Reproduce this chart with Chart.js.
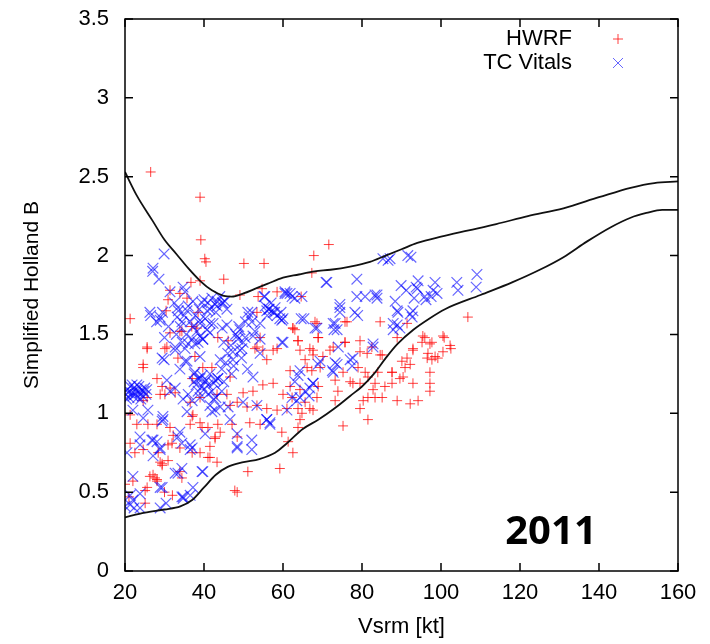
<!DOCTYPE html>
<html>
<head>
<meta charset="utf-8">
<script src="https://cdn.jsdelivr.net/npm/chart.js@4"></script>
<style>
  html, body { margin: 0; padding: 0; background: #fff; }
</style>
</head>
<body>
<canvas id="chart" width="710" height="644"></canvas>
<script>
// axis ticks
const xTicks = [20, 40, 60, 80, 100, 120, 140, 160];
const yTicks = [0, 0.5, 1, 1.5, 2, 2.5, 3, 3.5];

// envelope curves
const upperX = [20, 23, 27, 30, 33, 36, 39, 42, 45, 47, 50, 53, 56, 60, 64, 68, 72, 77, 82, 86, 90, 94, 100, 107, 114, 122, 131, 140, 148, 154, 160];
const upperY = [2.53, 2.38, 2.22, 2.10, 2.01, 1.92, 1.84, 1.78, 1.745, 1.74, 1.76, 1.79, 1.82, 1.86, 1.88, 1.90, 1.91, 1.93, 1.96, 2.00, 2.04, 2.08, 2.12, 2.16, 2.20, 2.25, 2.30, 2.37, 2.43, 2.46, 2.47];
const lowerX = [20, 25, 30, 34, 37, 40, 43, 46, 50, 54, 58, 61, 65, 69, 73, 77, 80, 83, 86, 89, 93, 97, 101, 110, 118, 125, 131, 137, 143, 148, 152, 156, 160];
const lowerY = [0.34, 0.37, 0.39, 0.41, 0.45, 0.53, 0.61, 0.66, 0.69, 0.71, 0.75, 0.81, 0.90, 0.96, 1.03, 1.11, 1.17, 1.25, 1.35, 1.44, 1.53, 1.60, 1.66, 1.75, 1.83, 1.91, 1.99, 2.09, 2.18, 2.24, 2.27, 2.29, 2.29];

// HWRF points [Vsrm, B]
const hwrfPoints = [
  [26.5,2.53],[39.0,2.37],[39.2,2.10],[40.2,1.98],[40.5,1.96],[50.1,1.95],[55.2,1.95],[45.0,1.85],[39.0,1.84],[36.7,1.83],
  [21.3,1.60],[31.4,1.78],[33.9,1.76],[30.9,1.72],[30.4,1.65],[35.7,1.73],[53.7,1.74],[54.7,1.79],[58.5,1.77],[53.4,1.64],
  [38.5,1.64],[49.1,1.75],[71.6,2.07],[67.8,2.00],[67.3,1.89],[64.6,1.74],[68.1,1.58],[76.2,1.58],[84.6,1.58],[91.4,1.57],
  [106.8,1.61],[62.5,1.54],
  [63.0,1.53],[63.8,1.46],[68.9,1.48],[66.8,1.41],[64.3,1.40],[71.9,1.40],[75.7,1.45],[79.5,1.46],[79.5,1.39],[82.5,1.42],
  [85.1,1.37],[65.6,1.34],[67.6,1.37],[70.1,1.36],[61.8,1.27],[66.1,1.29],[67.3,1.27],[69.4,1.29],[73.2,1.21],[75.2,1.26],
  [77.0,1.20],[77.7,1.19],[79.0,1.29],[80.8,1.26],[81.5,1.23],[79.5,1.19],[61.8,1.17],[62.3,1.10],[64.3,1.15],[68.6,1.10],
  [68.9,1.17],[65.6,1.07],[63.8,1.03],[64.8,1.00],[66.8,1.03],[67.6,1.02],[64.3,0.96],[63.8,0.91],[73.9,1.14],[73.2,1.08],
  [84.0,1.26],[87.6,1.26],[89.6,1.22],[90.4,1.23],[90.9,1.29],[92.2,1.31],[90.1,1.33],[91.4,1.35],[92.9,1.40],[95.2,1.45],
  [97.7,1.45],[95.9,1.48],[100.8,1.48],[102.5,1.41],[100.5,1.39],[96.7,1.38],[96.5,1.35],[97.7,1.34],[99.2,1.35],[97.2,1.26],
  [97.2,1.19],[97.2,1.14],[92.9,1.19],[87.6,1.19],[85.8,1.17],[83.3,1.19],[82.8,1.15],[81.5,1.10],[83.3,1.10],[85.1,1.10],
  [88.9,1.08],[94.2,1.08],[92.2,1.06],[80.3,1.08],[79.5,1.03],[81.5,0.96],[75.2,0.92],[62.5,0.75],[61.3,0.82],
  [100.5,1.49],[102.3,1.43],[95.4,1.49],[97.2,1.44],[92.9,1.41],[98.5,1.36],
  [31.4,1.51],[34.4,1.52],[38.2,1.54],[25.6,1.41],[30.1,1.41],[33.4,1.35],[37.7,1.36],[46.1,1.46],[52.9,1.41],[54.9,1.40],
  [58.5,1.41],[24.6,1.29],[42.0,1.29],[39.7,1.29],[46.6,1.23],[28.1,1.22],[29.4,1.17],[31.4,1.16],[37.0,1.22],[30.1,1.12],
  [32.7,1.13],[28.9,1.12],[25.6,1.10],[24.6,1.08],[36.5,1.07],[39.0,1.10],[43.3,1.12],[45.8,1.12],[49.9,1.13],[52.4,1.14],
  [54.9,1.18],[57.5,1.19],[60.0,1.12],[46.6,1.05],[48.4,1.07],[50.9,1.04],[53.4,1.05],[55.9,1.03],[58.5,1.02],[61.0,1.03],
  [21.3,0.99],[23.0,0.93],[25.8,0.93],[28.1,0.93],[31.4,0.91],[32.2,0.86],[37.2,0.99],[39.0,0.94],[36.5,0.93],[41.0,0.91],
  [43.5,0.93],[44.1,0.88],[42.8,0.84],[41.5,0.79],[47.1,0.93],[48.4,0.85],[51.6,0.94],[54.2,0.93],[59.7,0.88],[21.3,0.81],
  [22.5,0.75],[24.6,0.77],[28.4,0.75],[30.9,0.80],[33.9,0.78],[37.0,0.75],[39.0,0.75],[41.5,0.72],[43.3,0.69],[28.9,0.69],
  [29.4,0.67],[27.1,0.61],[33.9,0.63],[34.4,0.59],[28.1,0.58],[25.6,0.53],[20.0,0.55],[51.1,0.63],[47.8,0.51],[48.4,0.50],
  [59.2,0.65],
  [25.6,1.42],[30.6,1.42],[33.9,1.52],[36.9,1.55],[43.5,1.48],[53.4,1.42],[54.2,1.48],[55.9,1.34],[57.5,1.40],[62.5,1.54],
  [63.8,1.46],[67.6,1.40],[68.6,1.57],[68.9,1.48],[72.7,1.42],[75.7,1.45],[75.7,1.58],[81.3,1.38],[84.6,1.37],[87.6,1.26],
  [88.9,1.48],[24.6,1.31],
  [21.0,0.47],[22.0,0.57],[26.3,0.60],[27.6,0.59],[25.1,0.43],[30.0,0.50],[32.0,0.48],
  [37.0,0.98],[39.5,0.91],[42.8,0.85],[31.9,0.81],[29.4,0.68],[30.9,0.70],[41.0,0.72],[25.1,0.51],[28.1,0.57]
];

// TC Vitals points [Vsrm, B]
const vitalsPoints = [
  [20.2,1.12],[20.6,1.15],[21.0,1.10],[21.3,1.17],[21.7,1.13],[22.0,1.11],[22.3,1.16],[22.6,1.12],[22.9,1.14],[23.2,1.10],
  [23.5,1.17],[23.8,1.13],[24.1,1.15],[24.4,1.11],[24.7,1.14],[25.0,1.16],[25.3,1.12],[20.4,1.09],[21.8,1.18],[23.0,1.18],
  [24.0,1.09],[25.5,1.15],[20.8,1.13],
  [29.9,2.01],[27.1,1.92],[27.0,1.90],[28.6,1.85],[31.4,1.77],[34.7,1.80],[35.2,1.77],[26.3,1.64],[28.9,1.59],[33.4,1.67],
  [33.2,1.61],[34.4,1.58],[37.2,1.71],[39.5,1.70],[40.8,1.65],[41.5,1.57],[43.3,1.71],[44.6,1.70],[45.3,1.71],[43.3,1.68],
  [45.8,1.56],[51.1,1.64],[52.1,1.58],[54.2,1.57],[55.9,1.65],[57.5,1.64],[59.2,1.60],[61.0,1.76],[55.4,1.74],[40.3,1.60],
  [39.0,1.57],
  [28.9,1.61],[35.7,1.65],[39.0,1.59],[42.8,1.69],[44.8,1.70],[45.8,1.66],[41.5,1.66],[37.2,1.55],[39.0,1.49],[40.8,1.53],
  [42.3,1.57],[32.7,1.42],[35.2,1.41],[37.7,1.44],[39.7,1.47],[29.9,1.34],[35.2,1.33],[39.0,1.36],[51.4,1.61],[52.1,1.64],
  [56.4,1.66],[57.9,1.64],[59.7,1.59],[60.5,1.76],[62.3,1.74],[64.8,1.74],[55.2,1.74],[49.1,1.53],[48.4,1.49],[49.9,1.45],
  [52.4,1.49],[49.1,1.40],[47.3,1.34],[54.2,1.38],[59.7,1.45],[64.6,1.60],[68.6,1.54],[71.1,1.83],[78.7,1.85],[78.7,1.74],
  [78.9,1.62],[74.4,1.67],[72.7,1.57],[73.7,1.53],[83.3,1.75],[82.8,1.42],[85.3,1.98],[88.4,1.71],[88.9,1.65],[87.9,1.57],
  [64.3,1.27],[69.4,1.33],[73.2,1.32],[77.0,1.34],
  [86.6,1.97],[91.6,2.00],[70.9,1.83],[80.8,1.74],[83.8,1.75],[83.8,1.73],[89.9,1.81],[94.2,1.84],[93.7,1.80],[98.5,1.83],
  [98.0,1.78],[104.0,1.83],[104.3,1.78],[109.1,1.88],[108.9,1.80],[93.2,1.73],[96.2,1.72],[97.5,1.74],[99.0,1.76],[89.1,1.64],
  [92.9,1.65],[92.7,1.61],[78.2,1.64],[74.4,1.69],[74.4,1.64],[73.2,1.57],[65.3,1.60],[61.8,1.76],[63.0,1.73],[60.5,1.77],
  [92.4,1.99],[87.1,1.98],[91.2,1.78],[94.0,1.79],[95.9,1.74],[92.2,1.63],[88.9,1.56],[89.6,1.54],
  [68.1,1.54],[72.9,1.53],[87.9,1.53],[82.8,1.44],[74.0,1.42],[77.7,1.35],[77.5,1.30],[73.7,1.31],[72.5,1.27],[68.9,1.31],
  [63.8,1.24],[63.0,1.20],[67.6,1.19],[66.8,1.16],[65.6,1.14],[62.3,1.10],[63.5,1.08],[61.0,1.02],[66.6,1.11],
  [29.4,1.35],[32.7,1.40],[35.7,1.33],[33.9,1.28],[37.7,1.26],[38.5,1.45],[39.7,1.47],[41.5,1.51],[39.0,1.22],[40.3,1.20],
  [42.8,1.21],[41.0,1.18],[39.5,1.17],[44.1,1.34],[47.3,1.39],[48.6,1.47],[50.4,1.48],[49.6,1.41],[44.6,1.54],[52.9,1.52],
  [54.2,1.47],[60.0,1.45],[52.4,1.23],[32.7,1.16],[31.4,1.14],[34.7,1.09],[35.7,1.01],[30.6,1.21],[43.0,1.10],[41.5,1.05],
  [42.0,1.01],[44.1,1.04],[25.8,1.02],[29.6,0.98],[29.4,0.95],[55.9,0.96],[56.7,0.93],[46.6,0.96],[48.4,0.87],[53.4,1.05],
  [33.9,0.88],[40.3,0.87],[23.8,0.80],[26.8,0.83],[28.1,0.82],[28.9,0.78],[34.4,0.81],[36.5,0.80],[37.0,0.78],[20.5,0.75],
  [27.1,0.73],[34.4,0.65],[33.4,0.62],[39.5,0.63],[37.2,0.53],[22.0,0.60],[21.3,0.48],[23.8,0.49],[28.9,0.53],[34.7,0.46],
  [36.5,0.48],[48.4,0.78],[52.1,0.77],[22.3,0.40],[21.3,0.42],
  [20.0,0.41],[22.0,0.45],[23.8,0.40],[30.4,0.43],[28.9,0.40],[34.7,0.47],
  [37.5,1.25],[38.5,1.22],[39.5,1.24],[40.5,1.21],[41.5,1.25],[42.5,1.19],[43.5,1.22],[38.0,1.18],[40.0,1.15],[42.0,1.14],
  [22.0,1.02],[24.6,0.97],[29.6,0.96],[23.8,0.85],[27.1,0.83],[28.9,0.77],[33.4,0.85],[36.5,0.77],[32.7,0.62],[29.4,0.53],
  [39.7,0.63],[34.4,0.47],[55.9,0.96],[52.1,0.83],[48.4,0.79],[42.8,1.02],[46.1,1.04],[49.9,1.07],[56.7,0.94],[64.3,1.10],
  [67.6,1.19],[72.7,1.26],
  [32.5,1.70],[33.5,1.65],[34.0,1.55],[35.0,1.62],[35.5,1.50],[36.0,1.68],[36.5,1.58],[37.0,1.47],[37.8,1.62],[38.2,1.52],
  [38.8,1.66],[40.0,1.72],[41.0,1.70],[42.0,1.73],[43.0,1.64],[44.0,1.74],[36.0,1.44],[34.5,1.45],[33.0,1.50],[31.0,1.55],
  [30.0,1.48],
  [43.5,1.22],[44.5,1.28],[45.5,1.32],[46.0,1.38],[46.8,1.43],[47.5,1.30],[48.0,1.50],[48.8,1.55],[49.5,1.35],[50.5,1.58],
  [51.0,1.28],[45.0,1.45],[47.0,1.25],
  [55.5,1.68],[56.5,1.66],[57.0,1.70],[58.0,1.67],[58.5,1.62],[59.5,1.64],[60.0,1.60],[56.0,1.62],
  [36.0,1.12],[37.0,1.08],[38.5,1.14],[39.0,1.10],[41.0,1.12],[42.5,1.09],[44.5,1.14],[45.0,1.20],[37.5,1.20],
  [26.5,1.62],[28.0,1.58],[29.5,1.64]
];

const RED = 'rgba(255, 0, 0, 0.75)';
const BLUE = 'rgba(0, 0, 255, 0.6)';
const FONT = '"Liberation Sans", Arial, sans-serif';

function toXY(xs, ys) {
  return xs.map((x, i) => ({ x: x, y: ys[i] }));
}

// inward ticks on all four sides, closed frame, legend and year label
const framePlugin = {
  id: 'frame',
  afterDraw(chart) {
    const ctx = chart.ctx;
    const a = chart.chartArea;
    const xs = chart.scales.x;
    const ys = chart.scales.y;
    ctx.save();
    ctx.strokeStyle = '#000';
    ctx.lineWidth = 1.5;
    ctx.strokeRect(a.left, a.top, a.right - a.left, a.bottom - a.top);
    ctx.beginPath();
    xTicks.forEach(v => {
      const px = xs.getPixelForValue(v);
      ctx.moveTo(px, a.bottom); ctx.lineTo(px, a.bottom - 8);
      ctx.moveTo(px, a.top); ctx.lineTo(px, a.top + 8);
    });
    yTicks.forEach(v => {
      const py = ys.getPixelForValue(v);
      ctx.moveTo(a.left, py); ctx.lineTo(a.left + 8, py);
      ctx.moveTo(a.right, py); ctx.lineTo(a.right - 8, py);
    });
    ctx.stroke();

    // legend
    ctx.fillStyle = '#000';
    ctx.font = '22px ' + FONT;
    ctx.textAlign = 'right';
    ctx.textBaseline = 'middle';
    ctx.fillText('HWRF', a.right - 106, a.top + 20);
    ctx.fillText('TC Vitals', a.right - 106, a.top + 44);
    ctx.lineWidth = 1;
    const mx = a.right - 60;
    ctx.strokeStyle = RED;
    ctx.beginPath();
    ctx.moveTo(mx - 5, a.top + 20); ctx.lineTo(mx + 5, a.top + 20);
    ctx.moveTo(mx, a.top + 15); ctx.lineTo(mx, a.top + 25);
    ctx.stroke();
    ctx.strokeStyle = BLUE;
    ctx.beginPath();
    ctx.moveTo(mx - 5, a.top + 39); ctx.lineTo(mx + 5, a.top + 49);
    ctx.moveTo(mx - 5, a.top + 49); ctx.lineTo(mx + 5, a.top + 39);
    ctx.stroke();

    // year
    ctx.fillStyle = '#000';
    ctx.font = 'bold 40px "Noto Sans", "Open Sans", sans-serif';
    ctx.textAlign = 'center';
    ctx.textBaseline = 'alphabetic';
    ctx.fillText('2011', 551, 544);
    ctx.restore();
  }
};

new Chart(document.getElementById('chart'), {
  type: 'scatter',
  data: {
    datasets: [
      {
        label: 'upper',
        data: toXY(upperX, upperY),
        showLine: true,
        borderColor: '#111',
        borderWidth: 1.8,
        pointRadius: 0,
        cubicInterpolationMode: 'monotone',
        order: 0
      },
      {
        label: 'lower',
        data: toXY(lowerX, lowerY),
        showLine: true,
        borderColor: '#111',
        borderWidth: 1.8,
        pointRadius: 0,
        cubicInterpolationMode: 'monotone',
        order: 0
      },
      {
        label: 'TC Vitals',
        data: vitalsPoints.map(p => ({ x: p[0], y: p[1] })),
        pointStyle: 'crossRot',
        pointRadius: 7.5,
        borderColor: BLUE,
        borderWidth: 1.2,
        order: 1
      },
      {
        label: 'HWRF',
        data: hwrfPoints.map(p => ({ x: p[0], y: p[1] })),
        pointStyle: 'cross',
        pointRadius: 5,
        borderColor: RED,
        borderWidth: 1,
        order: 2
      }
    ]
  },
  options: {
    responsive: false,
    animation: false,
    layout: { padding: { top: 19, right: 32, left: 0, bottom: 0 } },
    plugins: {
      legend: { display: false },
      tooltip: { enabled: false }
    },
    scales: {
      x: {
        type: 'linear',
        min: 20,
        max: 160,
        afterBuildTicks: s => { s.ticks = xTicks.map(v => ({ value: v })); },
        afterFit: s => { s.height = 73; s.paddingLeft = 0; s.paddingRight = 0; },
        grid: { display: false, drawTicks: false },
        border: { display: false },
        ticks: { color: '#000', padding: 9, font: { family: FONT, size: 22 }, maxRotation: 0, callback: v => String(v) },
        title: { display: true, text: 'Vsrm [kt]', color: '#000', font: { family: FONT, size: 22 }, padding: { top: 6 } }
      },
      y: {
        type: 'linear',
        min: 0,
        max: 3.5,
        afterBuildTicks: s => { s.ticks = yTicks.map(v => ({ value: v })); },
        afterFit: s => { s.width = 125; s.paddingTop = 0; s.paddingBottom = 0; },
        grid: { display: false, drawTicks: false },
        border: { display: false },
        ticks: { color: '#000', padding: 16, font: { family: FONT, size: 22 }, callback: v => String(v) },
        title: { display: true, text: 'Simplified Holland B', color: '#000', font: { family: FONT, size: 21 }, padding: { top: 20 } }
      }
    }
  },
  plugins: [framePlugin]
});
</script>
</body>
</html>
